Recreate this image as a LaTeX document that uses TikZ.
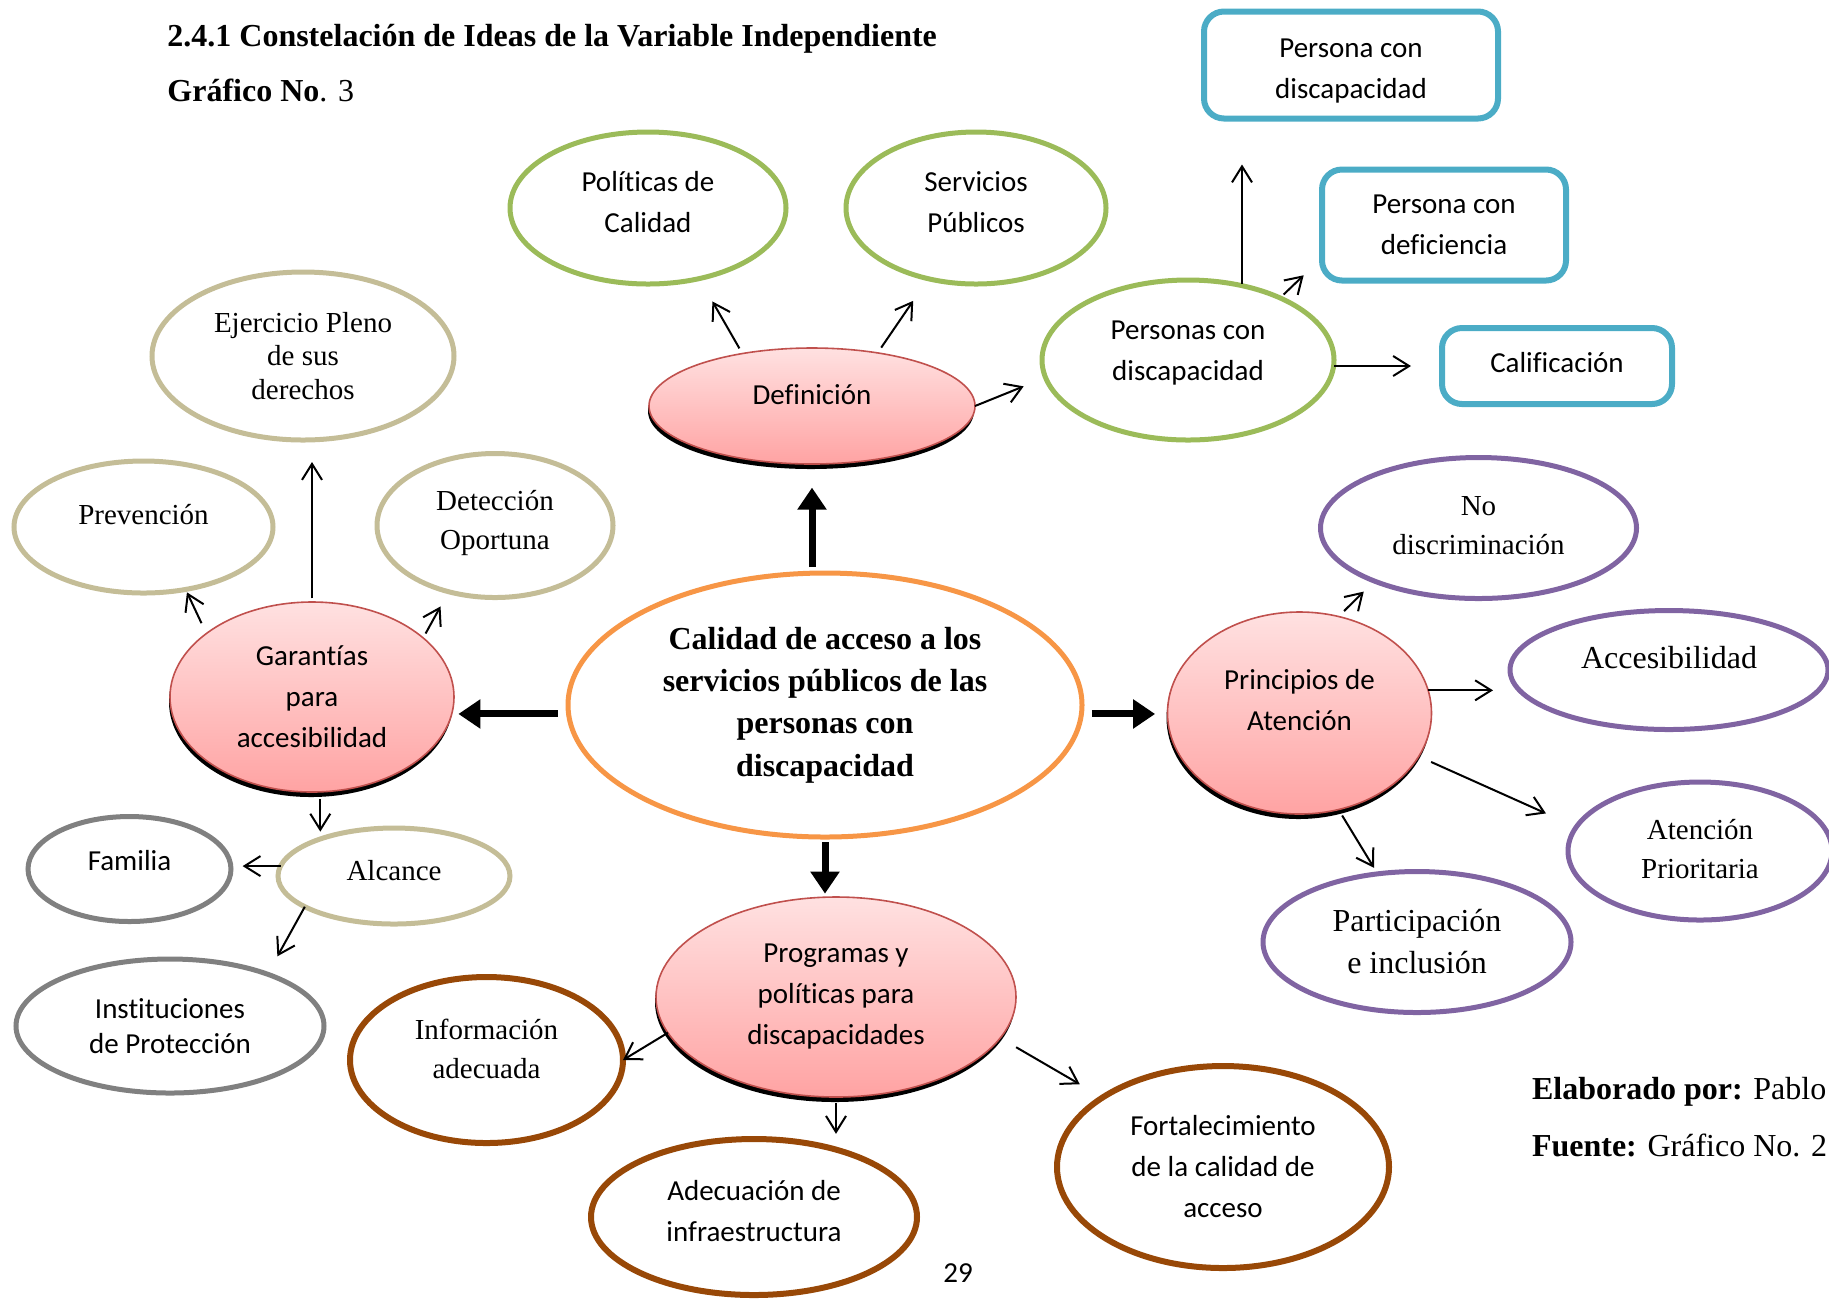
\documentclass[tikz,border=0pt]{standalone}
\usepackage{fontspec}
\setmainfont{Liberation Serif}
\newfontfamily\carlito[Ligatures=NoCommon]{Carlito}
\usetikzlibrary{shapes.geometric, arrows.meta, shadows}

\definecolor{orangeline}{HTML}{F79646}
\definecolor{greenline}{HTML}{9BBB59}
\definecolor{blueline}{HTML}{4BACC6}
\definecolor{tanline}{HTML}{C4BD97}
\definecolor{grayline}{HTML}{808080}
\definecolor{brownline}{HTML}{984807}
\definecolor{purpleline}{HTML}{8064A2}
\definecolor{pinktop}{HTML}{FFE1E1}
\definecolor{pinkbot}{HTML}{FFA3A3}
\definecolor{redline}{HTML}{C0504D}

\begin{document}
\begin{tikzpicture}[x=0.5pt, y=-0.5pt,
        sans/.style = {font=\carlito\fontsize{14.5}{20.5}\selectfont},
       serif/.style = {font=\fontsize{14.5}{19.5}\selectfont},
        dims/.style 2 args = {minimum width=#1pt, minimum height=#2pt},
      bubble/.style = {ellipse, align=center, inner sep=0pt, outer sep=0pt, line width=2.5pt, fill=white},
     pinkbub/.style = {ellipse, align=center, inner sep=0pt, outer sep=0pt, draw=redline, line width=0.8pt,
                       top color=pinktop, bottom color=pinkbot,
                       general shadow={fill=black, shadow yshift=-2.5pt, shadow xshift=-0.5pt}, sans},
     termbox/.style = {rectangle, rounded corners=10pt, draw=blueline, line width=3pt, align=center,
                       inner sep=0pt, outer sep=0pt, sans},
         arr/.style = {-{Straight Barb[length=8pt,width=10pt]}, line width=1pt},
      bigarr/.style = {-{Triangle[length=11pt,width=14pt]}, line width=3.5pt}
                    ]
\useasboundingbox (0,0) rectangle (1829,1298);

% titulo
\node (title) [anchor=west, inner sep=0pt, font=\bfseries\fontsize{16}{19}\selectfont] at (167,38.5)
      {2.4.1 Constelación de Ideas de la Variable Independiente};
\node (graf)  [anchor=west, inner sep=0pt, font=\fontsize{16}{19}\selectfont] at (167,90) {\textbf{Gráfico No}. 3};

% centro
\node (central) [bubble, draw=orangeline, dims={257}{132}, font=\bfseries\fontsize{16}{21.2}\selectfont] at (825,705)
      {Calidad de acceso a los\\servicios públicos de las\\personas con\\discapacidad};

% definicion
\node (def)   [pinkbub, dims={163}{58}, text depth=11.7pt] at (812,406) {Definición};
\node (pol)   [bubble, draw=greenline, sans, dims={138}{76}, text depth=6pt] at (648,208) {Políticas de\\Calidad};
\node (serv)  [bubble, draw=greenline, sans, dims={130}{76}, text depth=6pt] at (976,208) {Servicios\\Públicos};
\node (pers)  [bubble, draw=greenline, sans, dims={146}{80}, text depth=9pt] at (1188,360) {Personas con\\discapacidad};
\node (pcd)   [termbox, dims={147}{53.5}, text height=33pt, text depth=0pt] at (1351,65) {Persona con\\discapacidad};
\node (pdef)  [termbox, dims={122}{55.5}] at (1444,225) {Persona con\\deficiencia};
\node (calif) [termbox, dims={115}{38}, text depth=4pt] at (1557,366) {Calificación};

% garantias
\node (gar)   [pinkbub, dims={142}{95}] at (312,697) {Garantías\\para\\accesibilidad};
\node (ejer)  [bubble, draw=tanline, font=\fontsize{14.5}{16.6}\selectfont, dims={151}{84}] at (303,356)
      {Ejercicio Pleno\\de sus\\derechos};
\node (prev)  [bubble, draw=tanline, serif, dims={129.5}{66}, text depth=13pt] at (143.5,527) {Prevención};
\node (detec) [bubble, draw=tanline, serif, dims={118}{72}, text depth=5.5pt] at (495,525.5) {Detección\\Oportuna};
\node (alc)   [bubble, draw=tanline, serif, dims={116}{48}, text depth=6pt] at (394,876) {Alcance};
\node (fam)   [bubble, draw=grayline, sans, dims={101.5}{52.5}, text depth=9pt] at (129.5,869) {Familia};
\node (inst)  [bubble, draw=grayline, font=\carlito\fontsize{14.5}{17.5}\selectfont, dims={154}{67}] at (170,1026)
      {Instituciones\\de Protección};

% programas
\node (prog)  [pinkbub, dims={180}{100}] at (836,997) {Programas y\\políticas para\\discapacidades};
\node (info)  [bubble, draw=brownline, line width=3pt, serif, dims={136.5}{83}, text depth=11pt] at (486.5,1060)
      {Información\\adecuada};
\node (adec)  [bubble, draw=brownline, line width=3pt, sans, dims={163}{78}, text depth=6pt] at (754,1217)
      {Adecuación de\\infraestructura};
\node (fort)  [bubble, draw=brownline, line width=3pt, sans, dims={166}{101}] at (1223,1167)
      {Fortalecimiento\\de la calidad de\\acceso};

% principios
\node (prin)  [pinkbub, dims={132}{101}, text depth=13.5pt] at (1299.5,713) {Principios de\\Atención};
\node (nodis) [bubble, draw=purpleline, serif, dims={158}{70.5}, text depth=2.4pt] at (1478.5,528) {No\\discriminación};
\node (acc)   [bubble, draw=purpleline, font=\fontsize{16}{21}\selectfont, dims={159}{59.5}, text depth=13pt] at (1669,670)
      {Accesibilidad};
\node (aten)  [bubble, draw=purpleline, serif, dims={132}{69}, text depth=2.4pt] at (1700,851) {Atención\\Prioritaria};
\node (part)  [bubble, draw=purpleline, font=\fontsize{16}{21}\selectfont, dims={154}{70.5}] at (1417,942)
      {Participación\\e inclusión};

% pie
\node (elab)   [anchor=west, inner sep=0pt, font=\fontsize{16}{19}\selectfont] at (1531.6,1092) {\textbf{Elaborado por:} Pablo};
\node (fuente) [anchor=west, inner sep=0pt, font=\fontsize{16}{19}\selectfont] at (1531.6,1145.5) {\textbf{Fuente:} Gráfico No. 2};
\node (page)   [sans] at (958,1273) {29};

% flechas gruesas
\draw[bigarr, shorten <=3pt, shorten >=11.8pt] (central.north -| def.south) -- (def.south);
\draw[bigarr, shorten <=5.5pt, shorten >=2.2pt] (central.182) -- (central.182 -| gar.east);
\draw[bigarr, shorten <=5.2pt, shorten >=6.2pt] (central.-2) -- (central.-2 -| prin.west);
\draw[bigarr, shorten <=2.5pt, shorten >=1.7pt] (central.south) -- (central.south |- prog.north);

% flechas
\draw[arr, shorten <=3pt, shorten >=13.2pt] (def.143) -- (pol.-54);
\draw[arr, shorten <=3.2pt, shorten >=13.4pt] (def.39) -- (serv.236);
\draw[arr, shorten >=11.8pt] (def.east) -- (pers.187);
\draw[arr, shorten <=1pt, shorten >=23pt] (pers.54) -- (pers.54 |- pcd.south);
\draw[arr, shorten <=2.5pt, shorten >=12.7pt] (pers.34) -- (pdef.195);
\draw[arr, shorten >=15.5pt] (pers.east |- calif.west) -- (calif.west);
\draw[arr, shorten <=5.7pt, shorten >=1.6pt] (gar.149) -- (prev.-56);
\draw[arr, shorten <=1.8pt, shorten >=11pt] (gar.north) -- (gar.north |- ejer.south);
\draw[arr, shorten <=2.5pt, shorten >=8.4pt] (gar.28) -- (detec.235);
\draw[arr, shorten <=3.5pt, shorten >=-1.8pt] (gar.-85) -- (gar.-85 |- alc.north);
\draw[arr, shorten >=5.8pt] (alc.175) -- (alc.175 -| fam.east);
\draw[arr, shorten >=10.2pt] (alc.199) -- (inst.28);
\draw[arr] (prog.192) -- (info.east);
\draw[arr, shorten <=3pt, shorten >=2.6pt] (prog.south) -- (prog.south |- adec.north);
\draw[arr, shorten <=9.2pt, shorten >=13.2pt] (prog.-14) -- (fort.150);
\draw[arr, shorten <=3.9pt, shorten >=7.5pt] (prin.68) -- (nodis.207);
\draw[arr, shorten >=8.5pt] (prin.10) -- (prin.10 -| acc.west);
\draw[arr, shorten <=6.8pt, shorten >=16.6pt] (prin.-20) -- (aten.169);
\draw[arr, shorten <=3.5pt, shorten >=3.5pt] (prin.-68) -- (part.120);
\end{tikzpicture}
\end{document}
